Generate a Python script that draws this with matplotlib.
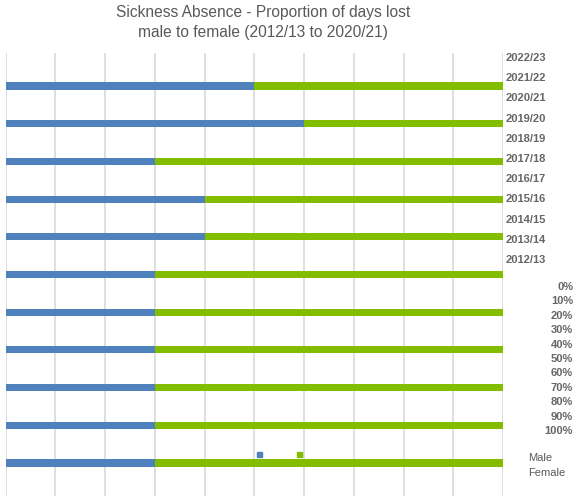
import numpy as np
import matplotlib.pyplot as plt

plt.rcParams['font.family'] = ['Liberation Sans', 'DejaVu Sans']

# share of days lost, per bar, top to bottom (%)
male = [50, 60, 30, 40, 40, 30, 30, 30, 30, 30, 30]
female = [100 - m for m in male]
years = ['2022/23', '2021/22', '2020/21', '2019/20', '2018/19', '2017/18',
         '2016/17', '2015/16', '2014/15', '2013/14', '2012/13']
pct_labels = ['%d%%' % p for p in range(0, 101, 10)]
series = ['Male', 'Female']
colors = ['#4F81BD', '#83BD00']
grey = '#595959'

fig = plt.figure(figsize=(5.78, 4.97), dpi=100)
W, H = 578, 497
ax = fig.add_axes([5.5 / W, 1 - 496 / H, (503 - 5.5) / W, (496 - 53) / H])

y = np.arange(len(male))
ax.barh(y, male, height=0.19, color=colors[0], zorder=3)
ax.barh(y, female, left=male, height=0.19, color=colors[1], zorder=3)

ax.set_xlim(0, 100)
ax.set_ylim(10.875, -0.875)
ax.set_xticks(np.arange(0, 101, 10))
ax.grid(axis='x', color='#D9D9D9', linewidth=1.2, zorder=0)
ax.tick_params(left=False, bottom=False, labelleft=False, labelbottom=False)
for s in ax.spines.values():
    s.set_visible(False)

# the labels sit off to the right, as in the original rendering
for i, t in enumerate(years):
    fig.text(506 / W, 1 - (58 + 20.2 * i) / H, t, ha='left', va='center',
             fontsize=8, fontweight='bold', color='#666666')
for i, t in enumerate(pct_labels):
    fig.text(573 / W, 1 - (287 + 14.4 * i) / H, t, ha='right', va='center',
             fontsize=8, fontweight='bold', color='#666666')
for i, t in enumerate(series):
    fig.text(528 / W, 1 - (458 + 15.5 * i) / H, t, ha='left', va='center',
             fontsize=8, color=grey)

# stray legend keys
for xk, c in zip([259, 299], colors):
    fig.patches.append(plt.Rectangle(((xk - 2.5) / W, 1 - 456.5 / H), 5 / W, 5 / H,
                                     transform=fig.transFigure, color=c))

fig.text(263 / W, 1 - 12.5 / H, 'Sickness Absence - Proportion of days lost',
         ha='center', va='center', fontsize=11.2, color=grey)
fig.text(263 / W, 1 - 32 / H, 'male to female (2012/13 to 2020/21)',
         ha='center', va='center', fontsize=11.2, color=grey)

fig.savefig('out.png', dpi=100)
